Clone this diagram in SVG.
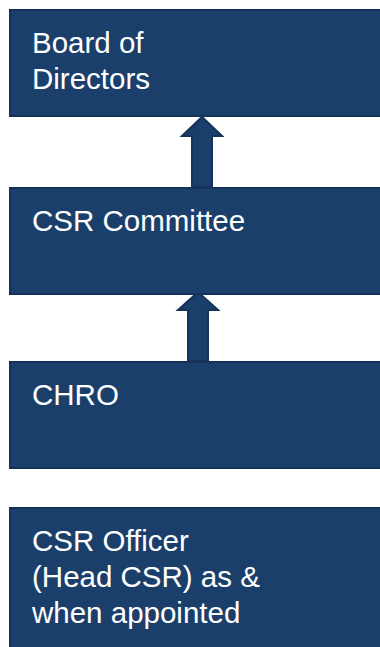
<svg xmlns="http://www.w3.org/2000/svg" width="380" height="647" viewBox="0 0 380 647">
  <style>
    .box { fill: #1b3f6b; stroke: #14325a; stroke-width: 2; }
    .arrow { fill: #1b3f6b; stroke: #14325a; stroke-width: 2; stroke-linejoin: miter; }
    .label { font-family: "Liberation Sans", Arial, sans-serif; font-size: 29.5px; fill: #ffffff; }
  </style>
  <rect width="380" height="647" fill="#ffffff"/>

  <!-- reporting arrows -->
  <g id="connectors">
    <path class="arrow" d="M192,187 V136 H182 L202,117 L222,136 H212 V187 Z"/>
    <path class="arrow" d="M188,361 V310 H178 L198,292 L218,310 H208 V361 Z"/>
  </g>

  <g id="board">
    <rect class="box" x="10" y="10" width="380" height="106"/>
    <text class="label" x="32" y="53">Board of</text>
    <text class="label" x="32" y="89">Directors</text>
  </g>

  <g id="csr-committee">
    <rect class="box" x="10" y="188" width="380" height="106"/>
    <text class="label" x="32" y="231">CSR Committee</text>
  </g>

  <g id="chro">
    <rect class="box" x="10" y="362" width="380" height="106"/>
    <text class="label" x="32" y="405">CHRO</text>
  </g>

  <g id="csr-officer">
    <rect class="box" x="10" y="508" width="380" height="150"/>
    <text class="label" x="32" y="551">CSR Officer</text>
    <text class="label" x="32" y="587">(Head CSR) as &amp;</text>
    <text class="label" x="32" y="623">when appointed</text>
  </g>
</svg>
